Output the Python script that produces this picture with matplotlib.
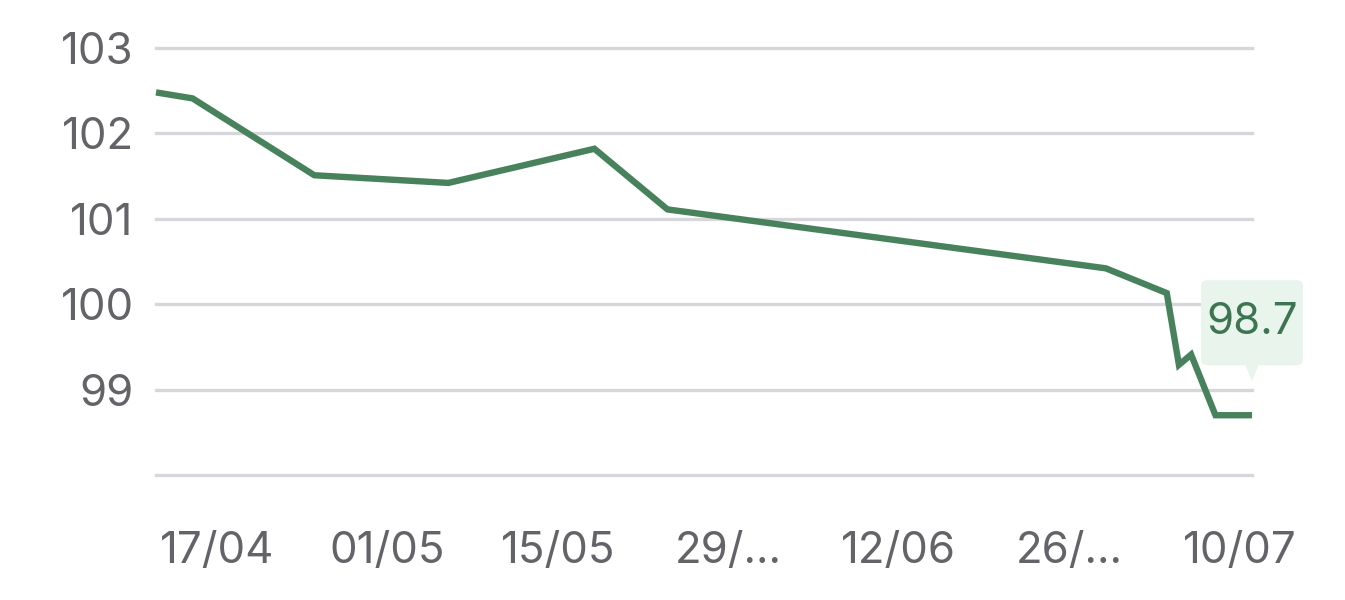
import numpy as np
import pandas as pd
import matplotlib
matplotlib.use("Agg")
import matplotlib.pyplot as plt
import matplotlib.dates as mdates
import matplotlib.transforms as mtransforms
from matplotlib.patches import FancyBboxPatch, Polygon

# Données
dates = ["2024-04-12", "2024-04-15", "2024-04-25", "2024-05-06", "2024-05-18",
         "2024-05-24", "2024-06-29", "2024-07-04", "2024-07-05", "2024-07-06",
         "2024-07-08", "2024-07-11"]
valeurs = [102.48, 102.41, 101.51, 101.42, 101.82,
           101.11, 100.42, 100.13, 99.29, 99.41,
           98.70, 98.70]

ticks_x = ["2024-04-17", "2024-05-01", "2024-05-15", "2024-05-29",
           "2024-06-12", "2024-06-26", "2024-07-10"]
labels_x = ["17/04", "01/05", "15/05", "29/...", "12/06", "26/...", "10/07"]
ticks_y = [98, 99, 100, 101, 102, 103]
labels_y = ["", "99", "100", "101", "102", "103"]
etiquette = "98.7"

plt.rcParams['font.family'] = ['Inter', 'DejaVu Sans']

vert = "#47825c"
gris = "#636368"

x = pd.to_datetime(dates)

fig = plt.figure(figsize=(13.45, 6), dpi=100)
ax = fig.add_axes([156 / 1345, 125 / 600, (1252 - 156) / 1345, (475 - 48) / 600])

ax.plot(x, valeurs, color=vert, linewidth=4.6, solid_joinstyle='miter',
        solid_capstyle='butt', clip_on=False, zorder=3)

ax.set_xlim(pd.Timestamp("2024-04-12"), pd.Timestamp("2024-07-11"))
ax.set_ylim(98, 103)

ax.set_xticks(pd.to_datetime(ticks_x))
ax.set_xticklabels(labels_x)
ax.set_yticks(ticks_y)
ax.set_yticklabels(labels_y)

ax.tick_params(axis='both', length=0, labelsize=31.5, labelcolor=gris)
ax.tick_params(axis='y', pad=16)
ax.tick_params(axis='x', pad=40)

ax.grid(axis='y', color="#d7d7db", linewidth=2.4)
ax.grid(axis='x', visible=False)
for g in ax.get_ygridlines():
    g.set_clip_on(False)
ax.set_axisbelow(True)
for s in ax.spines.values():
    s.set_visible(False)

# Bulle de la dernière valeur
px, py = ax.transData.transform((mdates.date2num(x[-1]), valeurs[-1]))
ident = mtransforms.IdentityTransform()
boite = FancyBboxPatch((px - 48, py + 53), 96, 79,
                       boxstyle="round,pad=3,rounding_size=6",
                       transform=ident, facecolor="#e8f4ec", edgecolor="none",
                       zorder=4)
fig.patches.append(boite)
pointe = Polygon([[px - 7, py + 51], [px + 7, py + 51], [px, py + 34]],
                 closed=True, transform=ident, facecolor="#e8f4ec",
                 edgecolor="none", zorder=4)
fig.patches.append(pointe)
fig.text(px, py + 93, etiquette, transform=ident, ha='center', va='center',
         fontsize=31.5, color="#3d7553", zorder=5)

fig.savefig("out.png", dpi=100)
